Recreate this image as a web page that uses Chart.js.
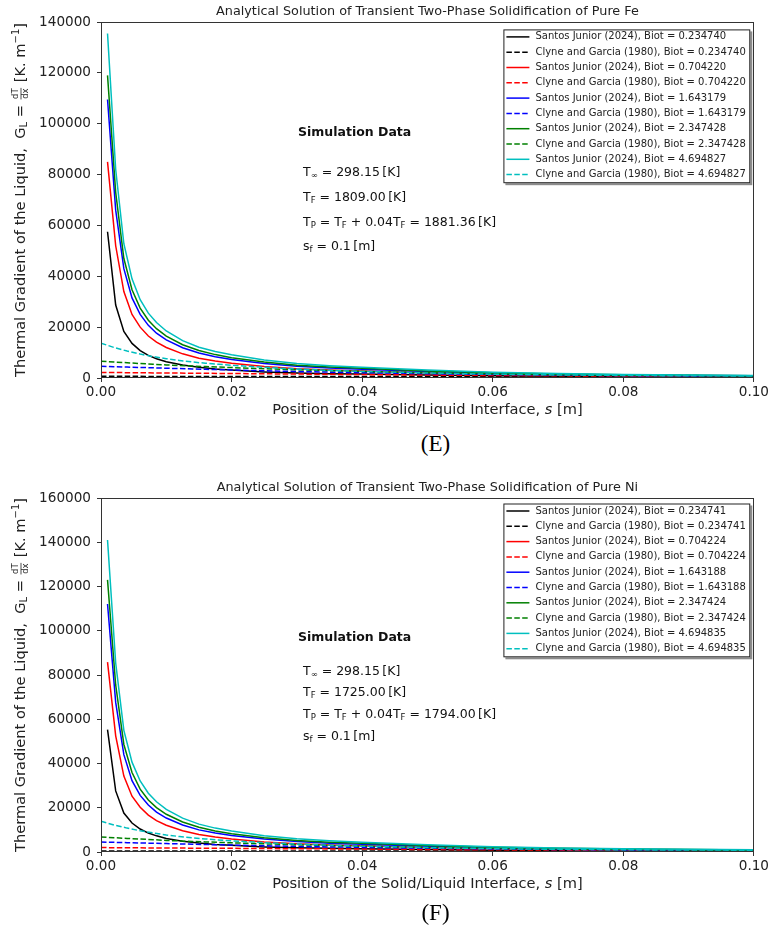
<!DOCTYPE html>
<html><head><meta charset="utf-8">
<script src="https://cdn.jsdelivr.net/npm/chart.js@4.4.1/dist/chart.umd.min.js"></script>
<style>
html,body{margin:0;padding:0;background:#fff;width:771px;height:930px;overflow:hidden;}
.wrap{position:absolute;left:0;width:771px;height:430px;}
.cap{position:absolute;left:400px;width:71px;text-align:center;font-family:"Liberation Serif","DejaVu Serif",serif;font-size:23px;color:#000;line-height:26px;}
</style></head><body>
<div class="wrap" style="top:0"><canvas id="cE" width="771" height="430"></canvas></div>
<div class="wrap" style="top:476px"><canvas id="cF" width="771" height="430"></canvas></div>
<div class="cap" style="top:431px">(E)</div>
<div class="cap" style="top:900px">(F)</div>
<script>
// ---------- DATA ----------
const sGrid = [0.001,0.00225,0.0035,0.00475,0.006,0.00725,0.0085,0.01,0.0125,0.015,0.0175,0.02,0.025,0.03,0.035,0.04,0.05,0.06,0.07,0.08,0.09,0.1];
const sGridDashed = [0,0.002,0.004,0.006,0.008,0.01,0.012,0.014,0.016,0.018,0.02,0.025,0.03,0.035,0.04,0.05,0.06,0.07,0.08,0.09,0.1];
const xTicks = [0,0.02,0.04,0.06,0.08,0.1];

const biotFe = ['0.234740','0.704220','1.643179','2.347428','4.694827'];
const biotNi = ['0.234741','0.704224','1.643188','2.347424','4.694835'];

// Fe (E) - Santos Junior (2024)
const feSantosB1 = [57500,28700,18300,13600,10800,8900,7600,6400,5100,4200,3550,3100,2400,1950,1700,1550,1150,850,700,580,500,450];
const feSantosB2 = [85000,52000,34000,25000,20000,16500,14100,12000,9500,7800,6700,5800,4500,3650,3150,2800,2050,1550,1200,950,800,700];
const feSantosB3 = [109500,66000,43000,31500,25000,20700,17600,15000,11900,9800,8400,7300,5700,4600,3900,3450,2550,1900,1450,1150,960,850];
const feSantosB4 = [119000,73000,47000,34700,27500,22700,19400,16500,13100,10800,9200,8000,6250,5050,4300,3800,2800,2100,1600,1270,1060,920];
const feSantosB5 = [135500,82000,52800,39000,30800,25500,21800,18500,14700,12100,10400,9100,7100,5750,4850,4200,3100,2300,1750,1380,1150,1000];
// Fe (E) - Clyne and Garcia (1980)
const feClyneB1 = [650,648,645,640,635,630,625,620,615,610,605,592,580,568,556,530,505,480,455,430,410];
const feClyneB2 = [2200,2150,2100,2050,2000,1960,1920,1880,1840,1800,1760,1650,1550,1450,1350,1150,1000,850,750,660,600];
const feClyneB3 = [4600,4450,4300,4150,4000,3850,3700,3550,3400,3300,3150,2850,2550,2300,2100,1700,1400,1150,950,820,730];
const feClyneB4 = [6600,6300,6000,5700,5400,5150,4900,4700,4500,4300,4100,3650,3250,2900,2600,2050,1650,1350,1100,950,850];
const feClyneB5 = [13700,12000,10600,9400,8400,7600,6900,6300,5800,5400,5000,4200,3550,3000,2600,1950,1500,1200,1000,880,800];

// Ni (F) - Santos Junior (2024)
const niSantosB1 = [55300,27600,17600,13100,10400,8550,7300,6150,4900,4050,3400,3000,2300,1880,1640,1490,1110,820,670,560,480,430];
const niSantosB2 = [85800,52500,34300,25200,20200,16650,14200,12100,9600,7870,6760,5850,4540,3680,3180,2830,2070,1560,1210,960,810,700];
const niSantosB3 = [112100,67600,44000,32250,25600,21200,18000,15350,12200,10000,8600,7450,5830,4700,4000,3530,2610,1950,1480,1180,980,870];
const niSantosB4 = [123000,75500,48600,35900,28400,23500,20050,17050,13550,11150,9500,8270,6460,5220,4450,3930,2900,2170,1650,1310,1100,950];
const niSantosB5 = [141000,85400,55000,40600,32100,26550,22700,19250,15300,12600,10800,9470,7390,5990,5050,4370,3230,2390,1820,1440,1200,1040];
// Ni (F) - Clyne and Garcia (1980)
const niClyneB1 = [450,449,447,445,443,441,439,437,435,433,431,426,421,416,411,400,390,380,370,360,350];
const niClyneB2 = [2000,1960,1920,1880,1840,1800,1770,1740,1710,1680,1650,1560,1480,1400,1320,1130,990,850,750,660,600];
const niClyneB3 = [4500,4370,4230,4090,3950,3800,3660,3520,3380,3260,3130,2830,2540,2290,2090,1700,1400,1150,950,820,730];
const niClyneB4 = [6800,6450,6150,5850,5550,5250,5000,4780,4560,4360,4160,3700,3280,2920,2620,2060,1660,1360,1110,960,860];
const niClyneB5 = [13900,12200,10800,9600,8600,7700,7000,6400,5900,5450,5050,4250,3600,3050,2640,1980,1520,1220,1010,890,810];

// ---------- STYLE ----------
const seriesColors = ['#000000','#ff0000','#0000ff','#008000','#00bfbf'];
const FONT = '"DejaVu Sans", "Noto Sans", sans-serif';

function buildDatasets(solids, dasheds, biots){
  const ds = [];
  seriesColors.forEach((c,i)=>{
    ds.push({label:'Santos Junior (2024), Biot = '+biots[i],
      data: sGrid.map((s,k)=>({x:s,y:solids[i][k]})),
      borderColor:c, borderWidth:1.5, pointRadius:0, tension:0, fill:false, order:100-2*i});
    ds.push({label:'Clyne and Garcia (1980), Biot = '+biots[i],
      data: sGridDashed.map((s,k)=>({x:s,y:dasheds[i][k]})),
      borderColor:c, borderWidth:1.5, borderDash:[5.5,2.4], pointRadius:0, tension:0, fill:false, order:99-2*i});
  });
  return ds;
}

function segWidth(ctx, segs){
  let w=0;
  segs.forEach(s=>{
    ctx.font=s.font;
    if(s.frac){ w+=Math.max(ctx.measureText(s.frac[0]).width, ctx.measureText(s.frac[1]).width)+3; }
    else { w+=ctx.measureText(s.t).width; }
  });
  return w;
}
function drawSegs(ctx, segs, x, y){
  ctx.textBaseline='middle'; ctx.textAlign='left';
  segs.forEach(s=>{
    ctx.font=s.font;
    if(s.frac){
      const w=Math.max(ctx.measureText(s.frac[0]).width, ctx.measureText(s.frac[1]).width)+3;
      ctx.textAlign='center';
      ctx.fillText(s.frac[0], x+w/2, y-5);
      ctx.fillText(s.frac[1], x+w/2, y+5);
      ctx.textAlign='left';
      ctx.fillRect(x+1, y-0.4, w-2, 0.8);
      x+=w;
    } else {
      ctx.fillText(s.t, x, y+(s.dy||0));
      x+=ctx.measureText(s.t).width;
    }
  });
}

function makeChart(id, cfg){
  const decor = {
    id:'decor',
    afterDraw(chart){
      const ctx=chart.ctx, a=chart.chartArea;
      ctx.save();
      // frame
      ctx.strokeStyle='#333'; ctx.lineWidth=1;
      ctx.strokeRect(Math.round(a.left)+0.5, Math.round(a.top)+0.5, Math.round(a.right-a.left)-1, Math.round(a.bottom-a.top)-1);
      ctx.fillStyle='#222';
      // title
      ctx.font='12.8px '+FONT; ctx.textAlign='center'; ctx.textBaseline='middle';
      ctx.fillText(cfg.title, (a.left+a.right)/2, a.top-10);
      // x title
      const xs=[{t:'Position of the Solid/Liquid Interface, ',font:'14.6px '+FONT},{t:'s',font:'italic 14.6px '+FONT},{t:' [m]',font:'14.6px '+FONT}];
      const xw=segWidth(ctx,xs);
      drawSegs(ctx,xs,(a.left+a.right)/2 - xw/2, a.bottom+32);
      // y title
      const n='14.6px '+FONT, sm='10px '+FONT;
      const ys=[{t:'Thermal Gradient of the Liquid,  G',font:n},{t:'L',font:sm,dy:3.5},{t:' = ',font:n},{frac:['dT','dx'],font:'8.5px '+FONT},{t:' [K. m',font:n},{t:'\u22121',font:sm,dy:-4.5},{t:']',font:n}];
      const yw=segWidth(ctx,ys);
      ctx.save(); ctx.translate(21,(a.top+a.bottom)/2); ctx.rotate(-Math.PI/2);
      drawSegs(ctx,ys,-yw/2,0); ctx.restore();
      // simulation data block
      ctx.font='bold 12.5px '+FONT; ctx.textAlign='left'; ctx.textBaseline='middle';
      ctx.fillStyle='#111';
      ctx.fillText('Simulation Data', 298, a.top+cfg.simY[0]);
      const f='12.5px '+FONT, sb='8.5px '+FONT;
      const lines=[
        [{t:'T',font:f},{t:'\u221e',font:sb,dy:3},{t:' = '+cfg.tInf+'\u2009[K]',font:f}],
        [{t:'T',font:f},{t:'F',font:sb,dy:3},{t:' = '+cfg.tF+'\u2009[K]',font:f}],
        [{t:'T',font:f},{t:'P',font:sb,dy:3},{t:' = T',font:f},{t:'F',font:sb,dy:3},{t:' + 0.04T',font:f},{t:'F',font:sb,dy:3},{t:' = '+cfg.tP+'\u2009[K]',font:f}],
        [{t:'s',font:f},{t:'f',font:sb,dy:3},{t:' = 0.1\u2009[m]',font:f}]
      ];
      lines.forEach((l,i)=>drawSegs(ctx,l,303,a.top+cfg.simY[i+1]));
      // legend
      const L=a.left+402.4, T=a.top+cfg.legTop, W=a.right-3.6-L, rowH=15.3, H=7.5+9*rowH+8.6;
      ctx.fillStyle='rgba(0,0,0,0.45)';
      ctx.fillRect(L+2,T+2,W,H);
      ctx.fillStyle='#fff'; ctx.fillRect(L,T,W,H);
      ctx.strokeStyle='#222'; ctx.lineWidth=1; ctx.strokeRect(L+0.5,T+0.5,W-1,H-1);
      ctx.font='10px '+FONT; ctx.textBaseline='middle'; ctx.textAlign='left';
      chart.data.datasets.forEach((d,i)=>{
        const y=T+7.5+i*rowH;
        ctx.strokeStyle=d.borderColor; ctx.lineWidth=1.5;
        ctx.setLineDash(d.borderDash||[]);
        ctx.beginPath(); ctx.moveTo(L+3,y); ctx.lineTo(L+26,y); ctx.stroke();
        ctx.setLineDash([]);
        ctx.fillStyle='#222'; ctx.fillText(d.label, L+32, y);
      });
      ctx.restore();
    }
  };
  return new Chart(document.getElementById(id), {
    type:'line',
    data:{datasets: buildDatasets(cfg.solids, cfg.dasheds, cfg.biots)},
    options:{
      responsive:false, animation:false, events:[],
      layout:{padding:{top:22,left:0,right:14,bottom:cfg.padBottom}},
      plugins:{legend:{display:false}, tooltip:{enabled:false}, title:{display:false}},
      scales:{
        x:{type:'linear', min:0, max:0.1,
          afterFit(s){s.height=45;},
          afterBuildTicks(s){ s.ticks = xTicks.map(v=>({value:v})); },
          ticks:{callback:v=>Number(v).toFixed(2), font:{family:FONT,size:13.6}, color:'#222', padding:2, maxRotation:0, autoSkip:false},
          grid:{drawOnChartArea:false, drawTicks:true, tickLength:4, color:'#333'}, border:{display:false}},
        y:{type:'linear', min:0, max:cfg.yMax,
          afterFit(s){s.width=101;},
          afterBuildTicks(s){ s.ticks = cfg.yTicks.map(v=>({value:v})); },
          ticks:{callback:v=>String(v), font:{family:FONT,size:13.6}, color:'#222', padding:6},
          grid:{drawOnChartArea:false, drawTicks:true, tickLength:4, color:'#333'}, border:{display:false}}
      }
    },
    plugins:[decor]
  });
}

const yTicksFe = [0,20000,40000,60000,80000,100000,120000,140000];
const yTicksNi = [0,20000,40000,60000,80000,100000,120000,140000,160000];

makeChart('cE',{
  title:'Analytical Solution of Transient Two-Phase Solidification of Pure Fe',
  solids:[feSantosB1,feSantosB2,feSantosB3,feSantosB4,feSantosB5],
  dasheds:[feClyneB1,feClyneB2,feClyneB3,feClyneB4,feClyneB5],
  biots:biotFe, yMax:140000, yTicks:yTicksFe, padBottom:7,
  tInf:'298.15', tF:'1809.00', tP:'1881.36',
  simY:[111,150.3,175.3,200.3,224.7], legTop:7.4
});
makeChart('cF',{
  title:'Analytical Solution of Transient Two-Phase Solidification of Pure Ni',
  solids:[niSantosB1,niSantosB2,niSantosB3,niSantosB4,niSantosB5],
  dasheds:[niClyneB1,niClyneB2,niClyneB3,niClyneB4,niClyneB5],
  biots:biotNi, yMax:160000, yTicks:yTicksNi, padBottom:9,
  tInf:'298.15', tF:'1725.00', tP:'1794.00',
  simY:[139.3,173.7,194.7,217,238.7], legTop:5.5
});
</script>
</body></html>
